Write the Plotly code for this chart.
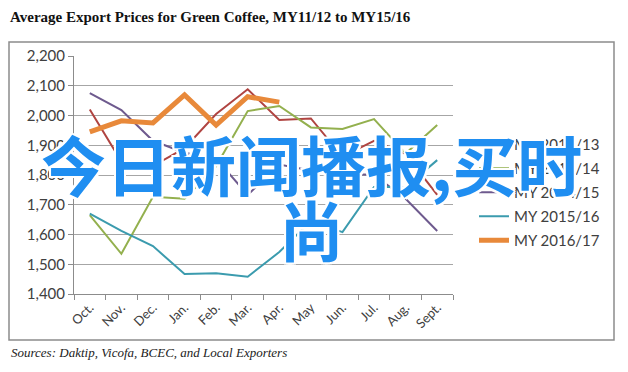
import plotly.graph_objects as go

months = ["Oct.", "Nov.", "Dec.", "Jan.", "Feb.", "Mar.", "Apr.", "May", "Jun.", "Jul.", "Aug.", "Sept."]
my_2012_13 = [2020, 1845, 1830, 1890, 2005, 2088, 1985, 1990, 1862, 1915, 1870, 1733]
my_2013_14 = [1665, 1535, 1727, 1720, 1830, 2015, 2032, 1960, 1955, 1988, 1872, 1968]
my_2014_15 = [2075, 2018, 1915, 1875, 1855, 1733, 1835, 1815, 1805, 1800, 1720, 1612]
my_2015_16 = [1670, 1612, 1561, 1467, 1470, 1458, 1541, 1645, 1608, 1760, 1760, 1850]
my_2016_17 = [1945, 1982, 1975, 2069, 1968, 2063, 2045]

series = [
    ("MY 2012/13", my_2012_13, "#B04441", 2),
    ("MY 2013/14", my_2013_14, "#93B04E", 2),
    ("MY 2014/15", my_2014_15, "#6E5A8E", 2),
    ("MY 2015/16", my_2015_16, "#3B9BAE", 2),
    ("MY 2016/17", my_2016_17, "#E8893A", 5),
]

fig = go.Figure()
for i, (name, vals, color, w) in enumerate(series):
    fig.add_trace(go.Scatter(
        x=months[:len(vals)], y=vals, name=name, mode="lines",
        line=dict(color=color, width=w), legendgroup=f"g{i}",
    ))

W, H = 628, 372
L, R, T, B = 74, 453, 56, 294

def px(x):
    return (x - L) / (R - L)

def py(y):
    return (B - y) / (B - T)

fig.update_layout(
    width=W, height=H,
    margin=dict(l=L, r=W - R, t=T, b=H - B),
    paper_bgcolor="white", plot_bgcolor="white",
    showlegend=True,
    legend=dict(
        x=px(474), y=py(128), xanchor="left", yanchor="top",
        font=dict(family="Lato", size=15, color="#404040"),
        bgcolor="rgba(0,0,0,0)", traceorder="grouped", tracegroupgap=1.5,
    ),
    title=dict(
        text="<b>Average Export Prices for Green Coffee, MY11/12 to MY15/16</b>",
        x=10 / W, xanchor="left", xref="container",
        y=1 - 17 / H, yanchor="middle", yref="container",
        font=dict(family="Liberation Serif", size=15, color="#111111"),
    ),
    xaxis=dict(
        type="category", categoryorder="array", categoryarray=months,
        range=[-0.5, len(months) - 0.5],
        showgrid=False, showline=True, linecolor="#8c8c8c", linewidth=1,
        ticks="outside", tickson="boundaries", ticklen=5, tickcolor="#8c8c8c",
        tickangle=-45,
        tickfont=dict(family="Lato", size=13, color="#404040"),
    ),
    yaxis=dict(
        range=[1400, 2200], dtick=100, tickformat=",",
        showgrid=True, gridcolor="#a6a6a6", gridwidth=1,
        showline=True, linecolor="#8c8c8c", linewidth=1,
        ticks="outside", ticklen=5, tickcolor="#8c8c8c",
        tickfont=dict(family="Lato", size=15, color="#404040"),
        zeroline=False,
    ),
    shapes=[dict(
        type="rect", xref="paper", yref="paper",
        x0=px(9), x1=px(614), y0=py(340), y1=py(42),
        line=dict(color="#8c8c8c", width=1.5), fillcolor="rgba(0,0,0,0)",
        layer="below",
    )],
)

outline = ",".join(f"{dx}px {dy}px 0 #ffffff" for dx, dy in
                   [(2, 0), (-2, 0), (0, 2), (0, -2), (2, 2), (-2, -2), (2, -2), (-2, 2)])

fig.add_annotation(
    text="Sources: Daktip, Vicofa, BCEC, and Local Exporters",
    xref="paper", yref="paper", x=px(9), y=py(352),
    xanchor="left", yanchor="middle", showarrow=False,
    font=dict(family="Liberation Serif", size=13, color="#222222", style="italic"),
)
fig.add_annotation(
    text="今日新闻播报,买时",
    xref="paper", yref="paper", x=px(311), y=py(163),
    xanchor="center", yanchor="middle", showarrow=False,
    font=dict(family="Noto Sans CJK SC", size=65, color="#1F8EF1", weight="bold", shadow=outline),
)
fig.add_annotation(
    text="尚",
    xref="paper", yref="paper", x=px(311), y=py(228),
    xanchor="center", yanchor="middle", showarrow=False,
    font=dict(family="Noto Sans CJK SC", size=65, color="#1F8EF1", weight="bold", shadow=outline),
)

fig.write_html("out.html")
